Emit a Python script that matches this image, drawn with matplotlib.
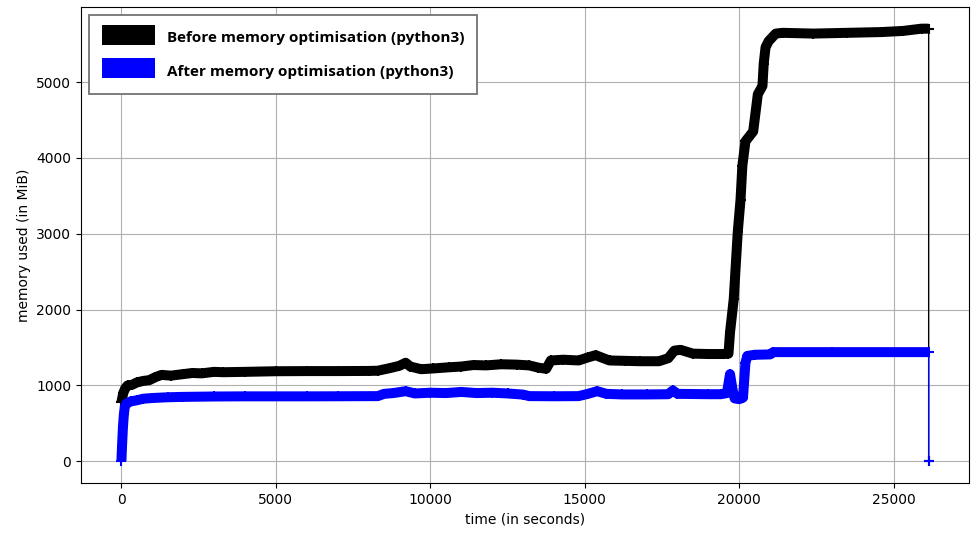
"""Memory usage over time, before and after the optimisation pass (mprof-style)."""

import matplotlib
matplotlib.use("Agg")
import matplotlib.pyplot as plt

# Sampled memory profile of the original script
before_time = [
    0, 60, 120, 200, 350, 500, 700, 900, 1100, 1300, 1600, 2000, 2300,
    2600, 3000, 3300, 4000, 5000, 6000, 7000, 8000, 8300, 8700, 9000, 9200,
    9350, 9700, 10100, 10600, 11000, 11400, 11800, 12300, 12800, 13200,
    13500, 13750, 13900, 14300, 14800, 15100, 15350, 15600, 15800, 16300,
    16800, 17400, 17700, 17900, 18100, 18500, 19000, 19500, 19650, 19700,
    19820, 19950, 20040, 20100, 20200, 20450, 20600, 20750, 20790, 20850,
    20950, 21180, 21400, 22400, 23500, 24600, 25300, 25900, 26130, 26130,
]
before_mem = [
    780, 900, 960, 1000, 1010, 1040, 1060, 1070, 1110, 1140, 1130, 1150,
    1165, 1160, 1180, 1175, 1180, 1188, 1190, 1190, 1192, 1195, 1230, 1260,
    1300, 1250, 1215, 1225, 1240, 1250, 1270, 1265, 1280, 1275, 1265, 1235,
    1220, 1330, 1340, 1330, 1370, 1400, 1360, 1330, 1325, 1320, 1320, 1360,
    1460, 1470, 1420, 1415, 1415, 1420, 1700, 2140, 3020, 3450, 3900, 4220,
    4350, 4840, 4950, 5240, 5460, 5540, 5640, 5650, 5640, 5650, 5660, 5675,
    5705, 5705, 0,
]

# Sampled memory profile after the optimisation
after_time = [
    0, 20, 50, 80, 110, 160, 300, 500, 700, 1000, 1500, 2000, 3000, 4000,
    6000, 7000, 8300, 8500, 8800, 9200, 9500, 10000, 10500, 11000, 11500,
    12000, 12500, 13000, 13200, 14000, 14800, 15100, 15400, 15700, 16200,
    17000, 17700, 17850, 18000, 19000, 19400, 19600, 19700, 19780, 19850,
    20000, 20120, 20200, 20260, 20500, 21000, 21100, 23000, 26130, 26130,
]
after_mem = [
    0, 200, 450, 620, 720, 760, 790, 805, 825, 835, 845, 850, 855, 857, 857,
    858, 860, 890, 900, 925, 895, 905, 900, 915, 900, 905, 895, 880, 860,
    858, 860, 890, 925, 890, 882, 882, 885, 935, 890, 885, 885, 900, 1150,
    950, 830, 820, 840, 1300, 1390, 1405, 1410, 1440, 1440, 1440, 0,
]

series = [
    (before_time, before_mem, "black", "Before memory optimisation (python3)"),
    (after_time, after_mem, "blue", "After memory optimisation (python3)"),
]

fig = plt.figure(figsize=(9.74, 5.4), dpi=100)
ax = fig.add_axes([0.0832, 0.1056, 0.9117, 0.8814])

handles = []
for t, mem, color, label in series:
    # dense samples merge into a thick band; the final drop stays thin
    ax.plot(t[:-1], mem[:-1], color=color, lw=7.2, solid_joinstyle="round",
            solid_capstyle="butt")
    line, = ax.plot(t, mem, "+-", color=color, lw=1, ms=7, mew=1.5,
                    label=label)
    handles.append(line)

ax.set_xlabel("time (in seconds)")
ax.set_ylabel("memory used (in MiB)")
ax.grid(True)

leg = ax.legend(handles=handles, loc="upper left", fancybox=False,
                framealpha=1, edgecolor="0.45", handlelength=3.5,
                handleheight=1.6, handletextpad=0.75, borderpad=0.85,
                labelspacing=0.9,
                prop={"family": "Open Sans", "weight": "bold", "size": 11})
leg.get_frame().set_linewidth(1.3)
for hl in leg.get_lines():
    hl.set_linewidth(14.4)
    hl.set_marker("")
    hl.set_solid_capstyle("butt")

fig.savefig("out.png", dpi=100)
